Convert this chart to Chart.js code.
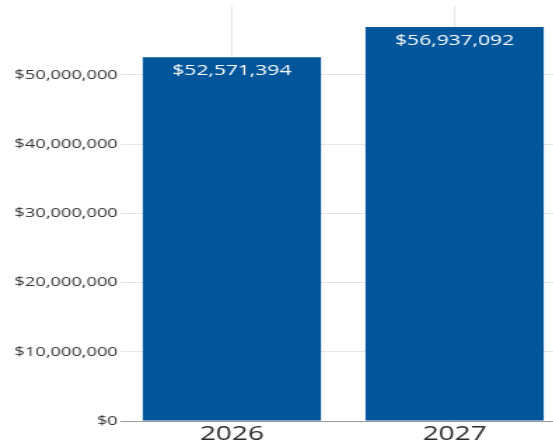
<!DOCTYPE html>
<html>
<head>
<meta charset="utf-8">
<script src="https://cdn.jsdelivr.net/npm/chart.js@4/dist/chart.umd.min.js"></script>
<style>
  html, body { margin: 0; padding: 0; background: #ffffff; overflow: hidden; }
  #wrap { position: relative; width: 553px; height: 447px; overflow: hidden; }
  #chart { position: absolute; left: 0; top: -4px; }
</style>
</head>
<body>
<div id="wrap">
  <!-- drawn narrow and widened by CSS for the broad lettering -->
  <canvas id="chart" width="404" height="451" style="width:566px;height:451px;"></canvas>
</div>
<script>
const years = ['2026', '2027'];
const totals = [52571394, 56937092];
const yTicks = [0, 10000000, 20000000, 30000000, 40000000, 50000000, 60000000];

const barColor = '#01559b';
const fmtMoney = v => '$' + Math.round(v).toLocaleString('en-US');

// white value labels just inside the top of each bar
const valueLabels = {
  id: 'valueLabels',
  afterDatasetsDraw(chart) {
    const ctx = chart.ctx;
    const meta = chart.getDatasetMeta(0);
    ctx.save();
    ctx.fillStyle = '#ffffff';
    ctx.font = '15px "Open Sans"';
    ctx.textAlign = 'center';
    ctx.textBaseline = 'middle';
    meta.data.forEach((bar, i) => {
      ctx.fillText(fmtMoney(totals[i]), bar.x, bar.y + 14);
    });
    ctx.restore();
  }
};

new Chart(document.getElementById('chart'), {
  type: 'bar',
  data: {
    labels: years,
    datasets: [{
      data: totals,
      backgroundColor: barColor,
      borderWidth: 0,
      categoryPercentage: 1.0,
      barPercentage: 0.8
    }]
  },
  options: {
    responsive: false,
    animation: false,
    layout: { padding: { top: 0, right: 0, bottom: 0, left: 0 } },
    plugins: {
      legend: { display: false },
      tooltip: { enabled: false },
      title: { display: false }
    },
    scales: {
      x: {
        grid: {
          offset: false,
          color: '#e4e4e4',
          lineWidth: 1,
          drawTicks: false
        },
        border: { display: true, color: '#9a9a9a', width: 1 },
        ticks: {
          color: '#2b2b2b',
          font: { family: '"Open Sans"', size: 20 },
          padding: 1
        }
      },
      y: {
        min: yTicks[0],
        max: yTicks[yTicks.length - 1],
        afterBuildTicks(scale) {
          scale.ticks = yTicks.map(v => ({ value: v }));
        },
        afterFit(scale) { scale.width = 86; },
        grid: {
          color: '#e6e6e6',
          lineWidth: 1,
          drawTicks: false
        },
        border: { display: false },
        ticks: {
          color: '#333333',
          font: { family: '"Open Sans"', size: 13 },
          padding: 2,
          callback(v) {
            return v === yTicks[yTicks.length - 1] ? null : fmtMoney(v);
          }
        }
      }
    }
  },
  plugins: [valueLabels]
});
</script>
</body>
</html>
